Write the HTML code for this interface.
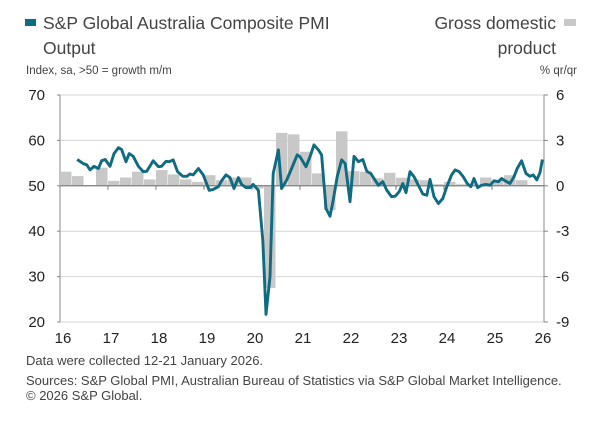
<!DOCTYPE html>
<html><head><meta charset="utf-8">
<style>
html,body{margin:0;padding:0;background:#fff;}
body{width:600px;height:426px;overflow:hidden;font-family:"Liberation Sans",sans-serif;color:#333;position:relative;}
.t{position:absolute;white-space:nowrap;}
</style></head>
<body>
<div class="t" style="left:25px;top:19px;width:11px;height:7px;background:#0f6b80;"></div>
<div class="t" style="left:43px;top:11px;font-size:17.5px;line-height:25px;color:#444;">S&amp;P Global Australia Composite PMI<br>Output</div>
<div class="t" style="right:44px;top:11px;font-size:17.5px;line-height:25px;color:#444;text-align:right;">Gross domestic<br>product</div>
<div class="t" style="left:564px;top:19px;width:12px;height:7px;background:#c8c8c8;"></div>
<div class="t" style="left:26px;top:65px;font-size:11.5px;color:#444;">Index, sa, &gt;50 = growth m/m</div>
<div class="t" style="right:23px;top:65px;font-size:11.5px;color:#444;">% qr/qr</div>
<svg id="chart" width="600" height="426" style="position:absolute;left:0;top:0;"></svg>
<div class="t" style="left:26px;top:353px;font-size:13px;color:#444;">Data were collected 12-21 January 2026.</div>
<div class="t" style="left:26px;top:373px;font-size:13px;color:#444;">Sources: S&amp;P Global PMI, Australian Bureau of Statistics via S&amp;P Global Market Intelligence.</div>
<div class="t" style="left:26px;top:388px;font-size:13px;color:#444;">© 2026 S&amp;P Global.</div>
<script>
const leftTicks=[20,30,40,50,60,70];
const rightTicks=[-9,-6,-3,0,3,6];
const yearLabels=["16","17","18","19","20","21","22","23","24","25","26"];
const gdpValues=[0.93,0.64,0,1.2,0.33,0.55,0.93,0.42,1.04,0.75,0.42,0.26,0.7,0.37,0.55,0.55,-0.18,-6.75,3.5,3.4,2.25,0.82,-1.6,3.6,0.97,0.93,0.5,0.86,0.53,0.42,0.37,0.11,0.26,0.1,0.1,0.55,0.37,0.7,0.37];
const pmiMonths=[4.3,5.8,6.7,7.5,8.5,9.6,10.4,11.3,12.5,13.5,14.6,15.4,16.5,17.3,18.3,19.6,20.8,21.7,23.3,24.6,25.4,26.5,27.3,28.3,29.4,30.7,31.7,32.5,33.3,34.6,35.8,37.3,38.3,39.6,40.4,41.5,42.5,43.5,44.6,45.4,46.5,47.5,48.3,49.6,50.7,51.5,52.5,53.3,54.6,55.4,56.7,57.9,59.3,60,61.5,62.5,63.5,64.6,65.4,66.5,67.5,68.3,69.3,70.4,71.3,72.5,73.5,74.6,75.7,76.7,77.7,78.5,79.6,80.7,81.7,82.9,83.8,84.8,85.7,86.5,87.5,88.5,89.6,90.7,91.7,92.5,93.5,94.6,95.7,96.7,97.9,98.8,99.8,100.8,101.8,102.7,103.5,104.4,105.4,106.5,107.5,108.5,109.6,110.4,111.5,112.5,113.5,114.3,115.4,116.5,117.5,118.3,119.2,120,120.6];
const pmiValues=[55.8,54.9,54.6,53.5,54.3,53.8,55.5,55.8,54.3,57.1,58.4,58.0,55.3,57.1,56.5,54.3,53.1,53.2,55.5,54.2,54.3,55.4,55.3,55.7,53.1,52.1,52.1,52.6,52.4,53.8,52.4,49.0,49.2,49.8,51.1,52.4,51.8,49.4,51.8,50.3,49.6,49.6,50.3,49.0,38.0,21.7,30.0,52.7,57.9,49.4,51.3,53.8,56.8,56.4,54.2,56.4,59.0,57.9,56.8,45.0,43.3,46.8,52.0,55.7,54.9,46.5,56.5,55.3,55.8,53.2,52.7,51.6,50.1,50.9,49.0,47.6,47.7,48.7,50.5,48.5,53.1,52.0,50.1,48.2,47.9,51.4,47.6,46.1,47.2,49.8,52.4,53.5,53.1,52.0,50.5,49.8,51.6,49.6,50.1,50.3,50.1,51.1,50.9,51.6,51.0,50.5,52.0,53.8,55.5,52.7,52.1,52.4,51.3,52.9,55.8];

const NS="http://www.w3.org/2000/svg";
const svg=document.getElementById('chart');
const X0=60,X1=540,YT=95,YB=322;
const xMonth=m=>X0+(X1-X0)*m/120;
const yL=v=>YB-(v-20)/50*(YB-YT);
const yR=v=>YB-(v+9)/15*(YB-YT);
function mk(tag,attrs){const e=document.createElementNS(NS,tag);for(const k in attrs)e.setAttribute(k,attrs[k]);svg.appendChild(e);return e;}

leftTicks.forEach(v=>{
  const g=mk('line',{x1:X0,x2:544,y1:yL(v),y2:yL(v),stroke:v===50?'#777':'#d6d6d6','stroke-width':1});
  
  
  const t=mk('text',{x:45,y:yL(v)+5,'text-anchor':'end','font-size':15,fill:'#222','font-family':'Liberation Sans, sans-serif'});
  t.textContent=v;
  
  
  mk('line',{x1:X0-3,x2:X0,y1:yL(v),y2:yL(v),stroke:'#888'});
});
rightTicks.forEach(v=>{
  const t=mk('text',{x:556,y:yR(v)+5,'font-size':15,fill:'#222','font-family':'Liberation Sans, sans-serif'});
  t.textContent=v;
  
  
  mk('line',{x1:544,x2:548,y1:yR(v),y2:yR(v),stroke:'#888'});
});
const la=mk('line',{x1:X0,x2:X0,y1:YT,y2:YB,stroke:'#888'});


const ra=mk('line',{x1:544,x2:544,y1:YT,y2:YB,stroke:'#888'});



gdpValues.forEach((v,i)=>{
  const x=xMonth(i*3),w=xMonth(i*3+3)-x;
  const y0=yR(0),y1=yR(v);
  const r=mk('rect',{x:x,y:Math.min(y0,y1),width:w-0.5,height:Math.max(0.5,Math.abs(y1-y0)),fill:'#c8c8c8'});
  
  
});
mk('line',{x1:X0,x2:544,y1:yL(50),y2:yL(50),stroke:'#777'});
yearLabels.forEach((s,i)=>{
  const x=xMonth(i*12);
  if(i>0&&i<10) mk('line',{x1:x,x2:x,y1:yL(50),y2:yL(50)+4,stroke:'#777'});
  const t=mk('text',{x:x+3,y:343,'text-anchor':'middle','font-size':15,fill:'#222','font-family':'Liberation Sans, sans-serif'});
  t.textContent=s;
  
  
});
const pts=pmiMonths.map((m,i)=>xMonth(m).toFixed(1)+','+yL(pmiValues[i]).toFixed(1)).join(' ');
const pl=mk('polyline',{points:pts,fill:'none',stroke:'#0f6b80','stroke-width':2.9,'stroke-linejoin':'round'});


</script>
</body></html>
